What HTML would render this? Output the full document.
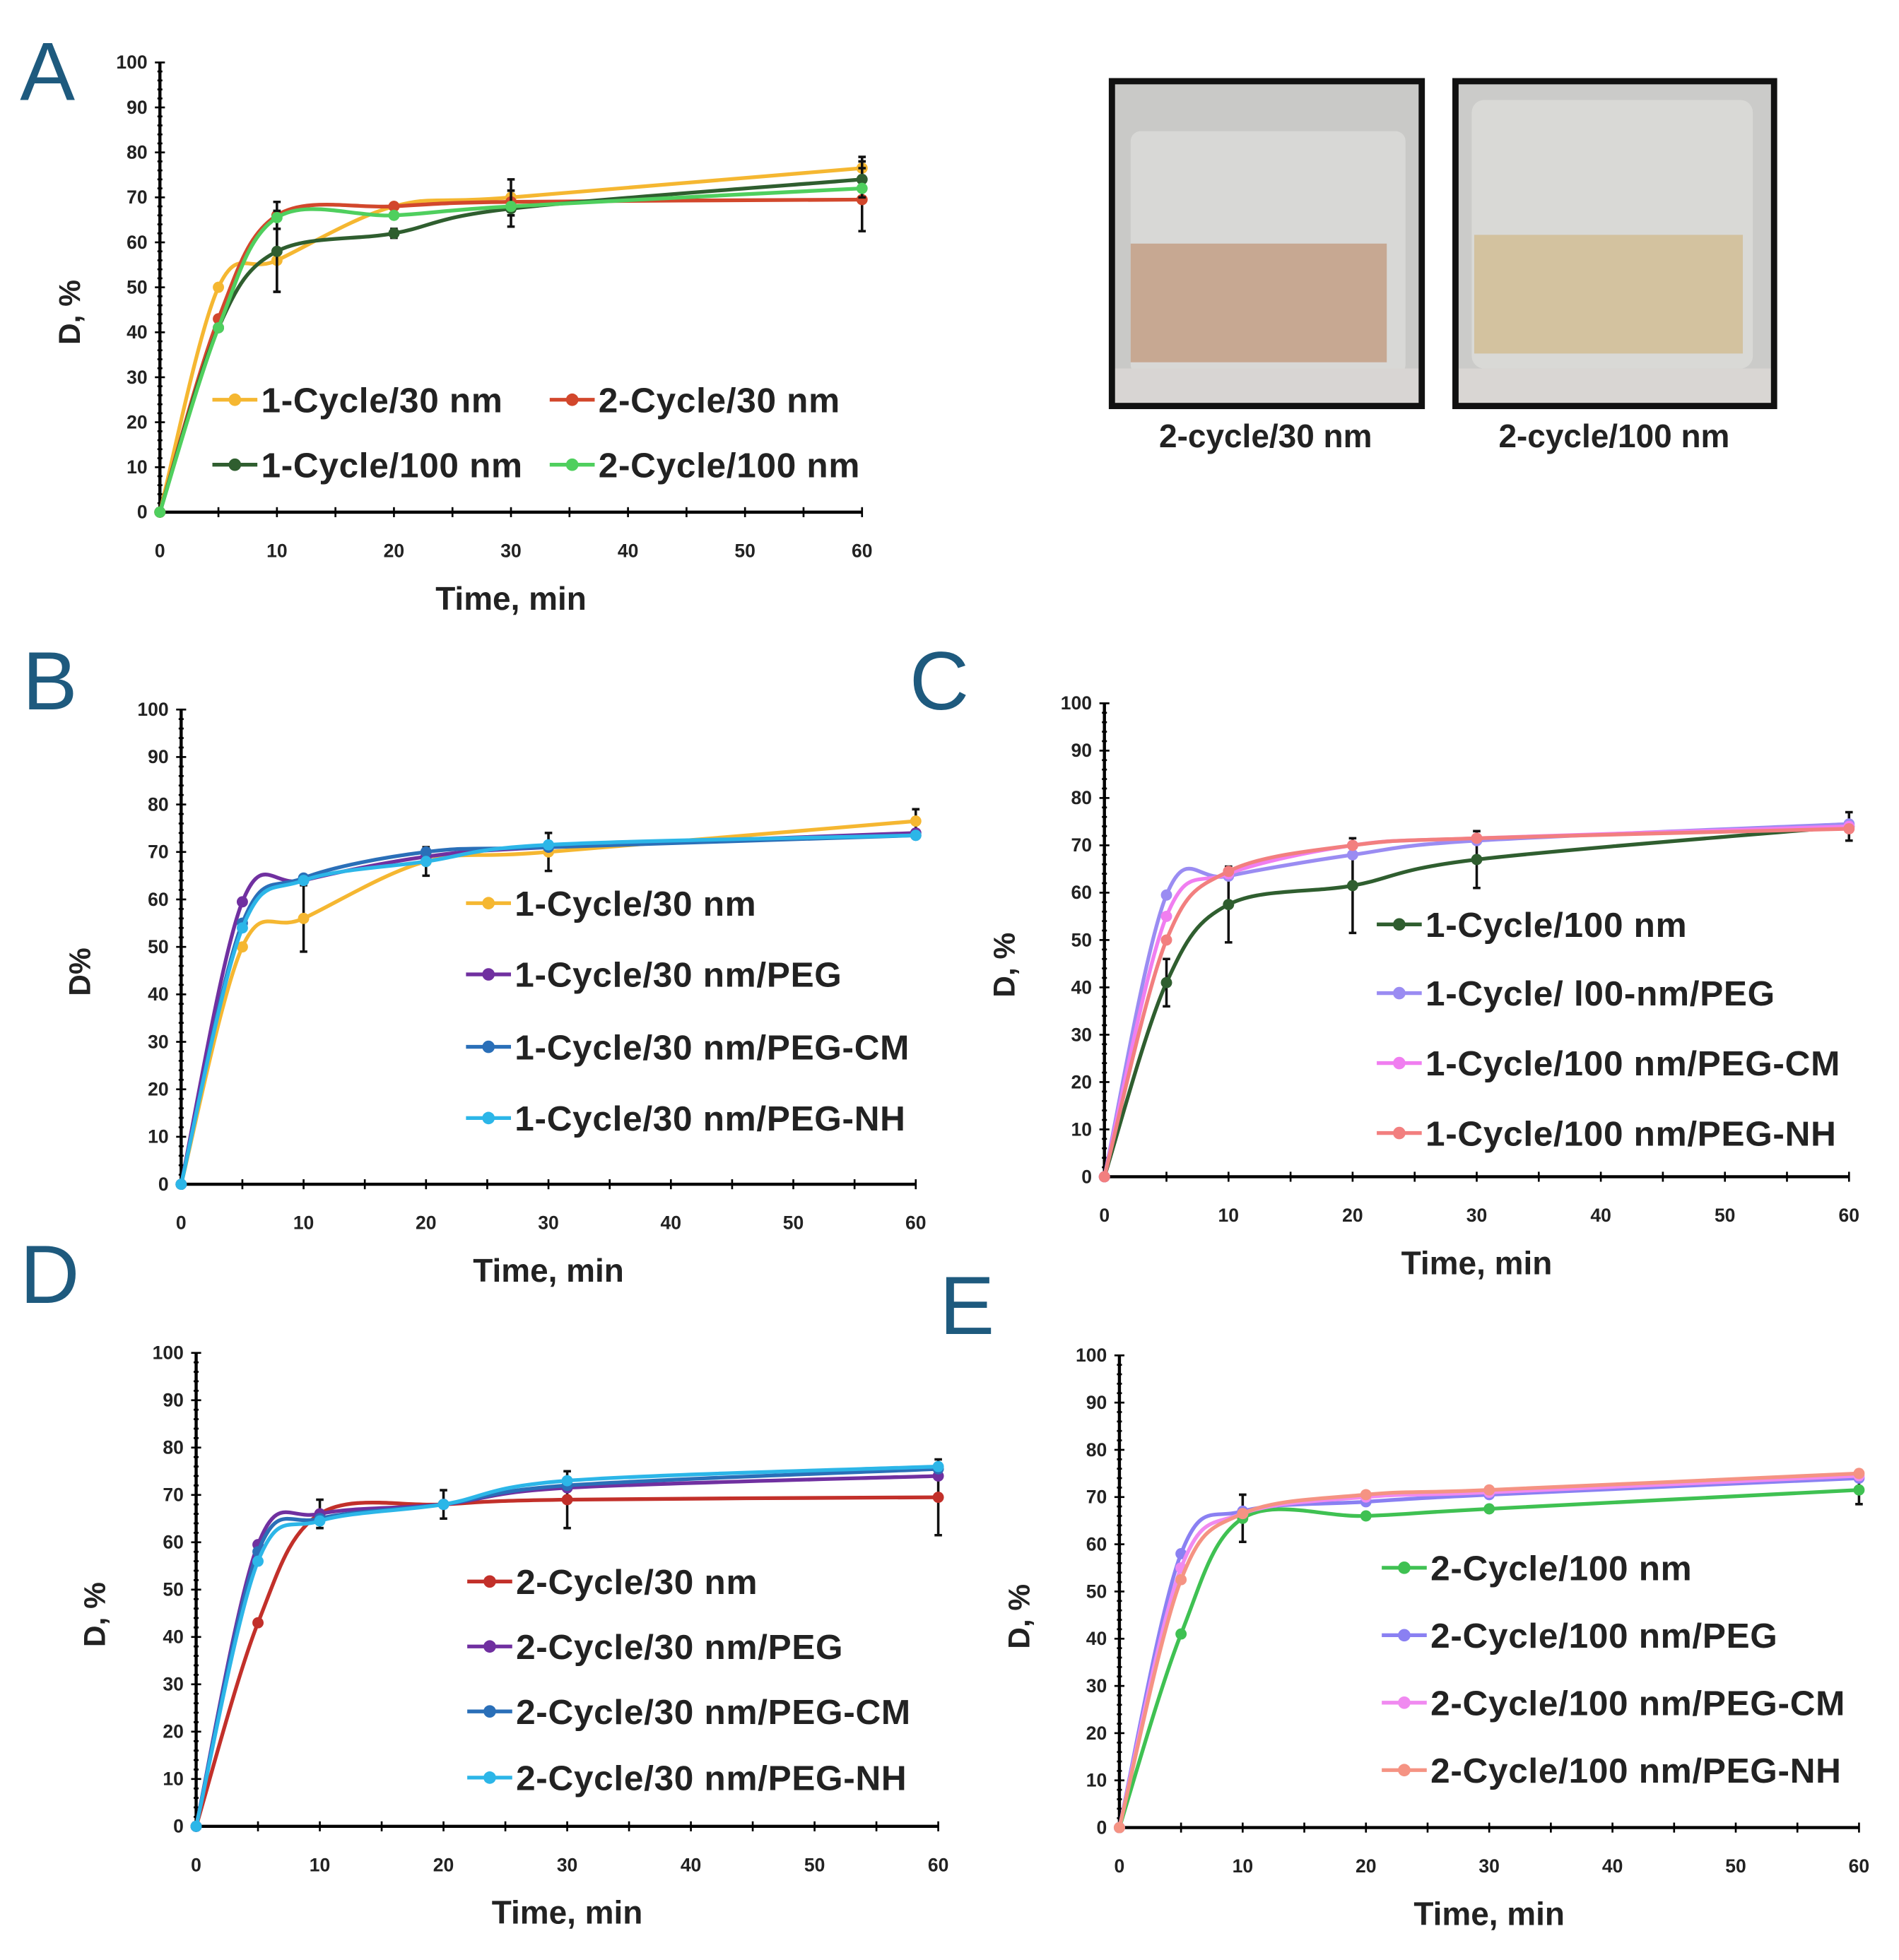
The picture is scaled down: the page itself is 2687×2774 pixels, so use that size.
<!DOCTYPE html>
<html><head><meta charset="utf-8"><style>
html,body{margin:0;padding:0;background:#fff;}
svg{display:block;}
text{font-family:"Liberation Sans",sans-serif;font-weight:bold;fill:#222;}
</style></head><body>
<svg id="fig" width="2687" height="2774" viewBox="0 0 1520 1569" preserveAspectRatio="none" xmlns="http://www.w3.org/2000/svg">
<rect width="1520" height="1569" fill="#fff"/>
<g>
<rect x="890" y="65" width="248" height="260" fill="#c9c9c7"/>
<rect x="905" y="105" width="220" height="195" rx="8" fill="#dcdcda" opacity="0.8"/>
<rect x="905" y="195" width="205" height="95" fill="#c7a892"/>
<rect x="890" y="295" width="248" height="30" fill="#d8d5d3"/>
<rect x="890" y="65" width="248" height="260" fill="none" stroke="#111" stroke-width="5"/>
</g>
<g>
<rect x="1165" y="65" width="255" height="260" fill="#cbcbc9"/>
<rect x="1178" y="80" width="225" height="215" rx="10" fill="#dcdcda" opacity="0.8"/>
<rect x="1180" y="188" width="215" height="95" fill="#d3c29f"/>
<rect x="1165" y="295" width="255" height="30" fill="#d9d6d3"/>
<rect x="1165" y="65" width="255" height="260" fill="none" stroke="#111" stroke-width="5"/>
</g>
<text x="1013" y="358" font-size="26" text-anchor="middle">2-cycle/30 nm</text>
<text x="1292" y="358" font-size="26" text-anchor="middle">2-cycle/100 nm</text>
</svg>
<script>
const xVals=[0,5,10,20,30,60];
const yTicks=[0,10,20,30,40,50,60,70,80,90,100];
const xTicks=[0,10,20,30,40,50,60];
// Panel A
const aNames=["1-Cycle/30 nm","2-Cycle/30 nm","1-Cycle/100 nm","2-Cycle/100 nm"];
const a1=[0,50,56,68,70,76.5], a2=[0,43,66,68,69,69.5], a3=[0,41,58,62,67.5,74], a4=[0,41,65.5,66,68,72];
const aErr1=[0,0,7,0,4,2.5], aErr2=[0,0,3,0,0,7], aErr3=[0,0,9,1,4,4];
// Panel B
const bNames=["1-Cycle/30 nm","1-Cycle/30 nm/PEG","1-Cycle/30 nm/PEG-CM","1-Cycle/30 nm/PEG-NH"];
const b1=[0,50,56,68,70,76.5], b2=[0,59.5,64,69,71,74], b3=[0,55,64.5,70,71,73.5], b4=[0,54,64,68,71.5,73.5];
const bErr1=[0,0,7,3,4,2.5];
// Panel C
const cNames=["1-Cycle/100 nm","1-Cycle/ l00-nm/PEG","1-Cycle/100 nm/PEG-CM","1-Cycle/100 nm/PEG-NH"];
const c1=[0,41,57.5,61.5,67,74], c2=[0,59.5,63.5,68,71,74.5], c3=[0,55,64,70,71.5,74], c4=[0,50,64.5,70,71.5,73.5];
const cErr1=[0,5,8,10,6,3];
// Panel D
const dNames=["2-Cycle/30 nm","2-Cycle/30 nm/PEG","2-Cycle/30 nm/PEG-CM","2-Cycle/30 nm/PEG-NH"];
const d1=[0,43,66,68,69,69.5], d2=[0,59.5,66,68,71.5,74], d3=[0,58,65,68,72,75.5], d4=[0,56,64.5,68,73,76];
const dErr1=[0,0,3,3,6,8];
// Panel E
const eNames=["2-Cycle/100 nm","2-Cycle/100 nm/PEG","2-Cycle/100 nm/PEG-CM","2-Cycle/100 nm/PEG-NH"];
const e1=[0,41,65.5,66,67.5,71.5], e2=[0,58,67,69,70.5,74], e3=[0,55,66.5,70,71,74.5], e4=[0,52.5,66.5,70.5,71.5,75];
const eErr1=[0,0,5,0,0,3];

const NS="http://www.w3.org/2000/svg";
const svg=document.getElementById('fig');
function mk(tag,attrs,parent){const e=document.createElementNS(NS,tag);for(const k in attrs)e.setAttribute(k,attrs[k]);(parent||svg).appendChild(e);return e;}

function smooth(pts){
  let d="M"+pts[0][0]+","+pts[0][1];
  for(let i=0;i<pts.length-1;i++){
    const p0=pts[i-1]||pts[i],p1=pts[i],p2=pts[i+1],p3=pts[i+2]||p2;
    const t=1/6;
    const c1x=p1[0]+(p2[0]-p0[0])*t,c1y=p1[1]+(p2[1]-p0[1])*t;
    const c2x=p2[0]-(p3[0]-p1[0])*t,c2y=p2[1]-(p3[1]-p1[1])*t;
    d+=` C${c1x},${c1y} ${c2x},${c2y} ${p2[0]},${p2[1]}`;
  }
  return d;
}

function panel(cfg){
  const g=mk('g',{});
  
  
  const sx=v=>cfg.x0+(cfg.x60-cfg.x0)*v/60;
  const sy=v=>cfg.y0-(cfg.y0-cfg.y100)*v/100;
  const L=mk('text',{x:cfg.lx,y:cfg.ly,'font-size':66,fill:'#1e5a7e',style:'font-weight:normal;fill:#1e5a7e'},g);
  L.textContent=cfg.letter;
  
  
  const ax=mk('path',{d:`M${cfg.x0},${cfg.y100} L${cfg.x0},${cfg.y0} L${cfg.x60},${cfg.y0}`,fill:'none',stroke:'#000','stroke-width':2.5},g);
  
  
  for(let v=0;v<=100;v+=2){mk('line',{x1:cfg.x0-(v%10?2:4),x2:cfg.x0+(v%10?2:4),y1:sy(v),y2:sy(v),stroke:'#000','stroke-width':1.5},g);}
  for(let v=0;v<=60;v+=5){mk('line',{x1:sx(v),x2:sx(v),y1:cfg.y0-4,y2:cfg.y0+4,stroke:'#000','stroke-width':1.5},g);}
  yTicks.forEach(v=>{const t=mk('text',{x:cfg.x0-10,y:sy(v)+5,'font-size':15,'text-anchor':'end'},g);t.textContent=v;
    
    });
  xTicks.forEach(v=>{const t=mk('text',{x:sx(v),y:cfg.y0+36,'font-size':15,'text-anchor':'middle'},g);t.textContent=v;
    
    });
  const xt=mk('text',{x:(cfg.x0+cfg.x60)/2,y:cfg.y0+78,'font-size':26,'text-anchor':'middle'},g);xt.textContent='Time, min';
  
  
  const ty=(cfg.y0+cfg.y100)/2+20;
  const yt=mk('text',{x:cfg.ytx,y:ty,'font-size':24,'text-anchor':'middle',transform:`rotate(-90 ${cfg.ytx} ${ty})`},g);yt.textContent=cfg.ytitle;
  
  
  cfg.series.forEach((s,i)=>{
    const pts=xVals.map((x,j)=>[sx(x),sy(s.vals[j])]);
    const p=mk('path',{d:smooth(pts),fill:'none',stroke:s.color,'stroke-width':3},g);
    
    
    if(s.err){xVals.forEach((x,j)=>{const e=s.err[j];if(!e)return;
      const el=mk('path',{d:`M${sx(x)},${sy(s.vals[j]-e)} L${sx(x)},${sy(s.vals[j]+e)} M${sx(x)-3},${sy(s.vals[j]-e)} h6 M${sx(x)-3},${sy(s.vals[j]+e)} h6`,stroke:'#111','stroke-width':2,fill:'none'},g);
      
      });}
    pts.forEach(pt=>{const c=mk('circle',{cx:pt[0],cy:pt[1],r:4.5,fill:s.color},g);
      
      });
    const lg=cfg.legend[i];
    const lgG=mk('g',{},g);
    
    
    mk('line',{x1:lg[0],x2:lg[0]+36,y1:lg[1],y2:lg[1],stroke:s.color,'stroke-width':3},lgG);
    mk('circle',{cx:lg[0]+18,cy:lg[1],r:5,fill:s.color},lgG);
    const lt=mk('text',{x:lg[0]+39,y:lg[1]+10,'font-size':28,'letter-spacing':0.4},lgG);lt.textContent=s.name;
  });
}

panel({name:'panel-a',letter:'A',lx:16,ly:80,x0:128,x60:690,y0:410,y100:50,ytx:64,ytitle:'D, %',
  series:[{name:aNames[0],vals:a1,color:'#f5b731',err:aErr1},{name:aNames[1],vals:a2,color:'#d2472c',err:aErr2},{name:aNames[2],vals:a3,color:'#2f5e2f',err:aErr3},{name:aNames[3],vals:a4,color:'#4fcf5e'}],
  legend:[[170,320],[440,320],[170,372],[440,372]]});
panel({name:'panel-b',letter:'B',lx:18,ly:568,x0:145,x60:733,y0:948,y100:568,ytx:72,ytitle:'D%',
  series:[{name:bNames[0],vals:b1,color:'#f5b731',err:bErr1},{name:bNames[1],vals:b2,color:'#7030a0'},{name:bNames[2],vals:b3,color:'#2a6fb8'},{name:bNames[3],vals:b4,color:'#2cb6e8'}],
  legend:[[373,723],[373,780],[373,838],[373,895]]});
panel({name:'panel-c',letter:'C',lx:728,ly:568,x0:884,x60:1480,y0:942,y100:563,ytx:812,ytitle:'D, %',
  series:[{name:cNames[0],vals:c1,color:'#2f5e2f',err:cErr1},{name:cNames[1],vals:c2,color:'#9a8cf2'},{name:cNames[2],vals:c3,color:'#f07ef0'},{name:cNames[3],vals:c4,color:'#f27f7f'}],
  legend:[[1102,740],[1102,795],[1102,851],[1102,907]]});
panel({name:'panel-d',letter:'D',lx:16,ly:1043,x0:157,x60:751,y0:1462,y100:1083,ytx:84,ytitle:'D, %',
  series:[{name:dNames[0],vals:d1,color:'#c2302a',err:dErr1},{name:dNames[1],vals:d2,color:'#7030a0'},{name:dNames[2],vals:d3,color:'#2a6fb8'},{name:dNames[3],vals:d4,color:'#2cb6e8'}],
  legend:[[374,1266],[374,1318],[374,1370],[374,1423]]});
panel({name:'panel-e',letter:'E',lx:752,ly:1068,x0:896,x60:1488,y0:1463,y100:1085,ytx:824,ytitle:'D, %',
  series:[{name:eNames[0],vals:e1,color:'#3fc152',err:eErr1},{name:eNames[1],vals:e2,color:'#8a80f2'},{name:eNames[2],vals:e3,color:'#f08af0'},{name:eNames[3],vals:e4,color:'#f59383'}],
  legend:[[1106,1255],[1106,1309],[1106,1363],[1106,1417]]});
</script>
</body></html>
